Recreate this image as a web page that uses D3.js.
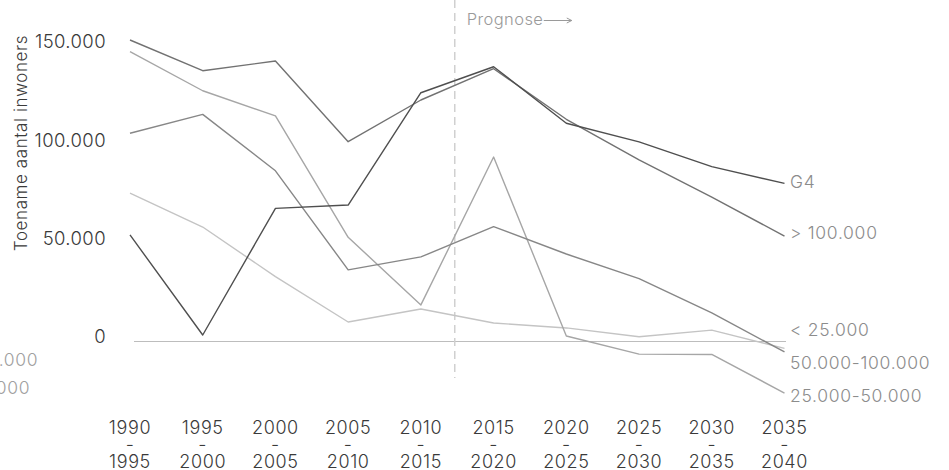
<!DOCTYPE html>
<html>
<head>
<meta charset="utf-8">
<script src="https://cdn.jsdelivr.net/npm/d3@7"></script>
<style>
  html, body { margin: 0; padding: 0; background: #fff; }
  svg { display: block; font-family: Inter, "Noto Sans", sans-serif; font-weight: 300; }
</style>
</head>
<body>
<svg id="chart" width="949" height="470"></svg>
<script>
// ---- data ----
const periodsStart = ["1990","1995","2000","2005","2010","2015","2020","2025","2030","2035"];
const periodsEnd   = ["1995","2000","2005","2010","2015","2020","2025","2030","2035","2040"];
const yTicks = [0, 50000, 100000, 150000];
const seriesNames = ["< 25.000", "25.000-50.000", "50.000-100.000", "> 100.000", "G4"];
const valuesLt25k    = [75500, 58200, 33000, 9900, 16500, 9400, 6900, 2400, 5800, -3500];
const values25to50k  = [147400, 127500, 114700, 53000, 18600, 93800, 2800, -6400, -6600, -26200];
const values50to100k = [105900, 115500, 86800, 36400, 43000, 58400, 44500, 32000, 14500, -5300];
const valuesGt100k   = [153300, 137700, 142600, 101600, 122800, 138700, 113000, 92300, 73400, 53600];
const valuesG4       = [54200, 3300, 67700, 69400, 126500, 139700, 111000, 101500, 88900, 80400];
const axisTitle = "Toename aantal inwoners";
const prognoseLabel = "Prognose";

// ---- layout ----
const svg = d3.select("#chart");
const x = d3.scalePoint().domain(periodsStart).range([130, 784.5]);
const y = d3.scaleLinear().domain([0, 150000]).range([341.5, 46.5]);
const fmt = d3.formatLocale({decimal: ",", thousands: ".", grouping: [3], currency: ["€",""]}).format(",d");

const series = [
  {name: "> 100.000",      values: valuesGt100k,   color: "#727272", labelY: 233.3},
  {name: "25.000-50.000",  values: values25to50k,  color: "#a6a6a6", labelY: 396},
  {name: "50.000-100.000", values: values50to100k, color: "#878787", labelY: 363.3},
  {name: "< 25.000",       values: valuesLt25k,    color: "#c4c4c4", labelY: 330},
  {name: "G4",             values: valuesG4,       color: "#4f4f4f", labelY: 182.3}
];

// zero line
svg.append("line")
  .attr("x1", 134).attr("x2", 786)
  .attr("y1", y(0)).attr("y2", y(0))
  .attr("stroke", "#bdbdbd").attr("stroke-width", 1.2);

// prognose dashed line
const progX = (x("2010") + x("2015")) / 2 - 2.5;
svg.append("line")
  .attr("x1", progX).attr("x2", progX)
  .attr("y1", 0).attr("y2", 378)
  .attr("stroke", "#d0d0d0").attr("stroke-width", 1.5)
  .attr("stroke-dasharray", "8,5");

svg.append("text")
  .attr("x", progX + 12).attr("y", 24.5)
  .attr("font-size", 16.5).attr("letter-spacing", 0.4).attr("fill", "#9a9a9a")
  .text(prognoseLabel);
svg.append("path")
  .attr("d", `M${progX + 89},20.5 H${progX + 117} M${progX + 112},18 L${progX + 117},20.5 L${progX + 112},23`)
  .attr("fill", "none").attr("stroke", "#9a9a9a").attr("stroke-width", 1);

// y axis tick labels
const yAxis = d3.axisLeft(y).tickValues(yTicks).tickFormat(fmt).tickSize(0).tickPadding(0);
const gy = svg.append("g").attr("transform", "translate(106,-4.5)").call(yAxis);
gy.select(".domain").remove();
gy.selectAll("text")
  .attr("font-size", 18.5).attr("letter-spacing", 0.4)
  .attr("fill", "#3a3a3a").attr("font-family", "Inter, sans-serif").attr("font-weight", 300);

// y axis title
svg.append("text")
  .attr("transform", "translate(27,143) rotate(-90)")
  .attr("text-anchor", "middle")
  .attr("font-size", 17).attr("letter-spacing", 0.6).attr("fill", "#3a3a3a")
  .text(axisTitle);

// x axis labels
const gx = svg.append("g");
periodsStart.forEach((p, i) => {
  const t = gx.append("text")
    .attr("x", x(p)).attr("text-anchor", "middle")
    .attr("font-size", 18).attr("letter-spacing", 0.6).attr("fill", "#3a3a3a");
  t.append("tspan").attr("x", x(p)).attr("y", 433.5).text(p);
  t.append("tspan").attr("x", x(p)).attr("y", 450.5).text("-");
  t.append("tspan").attr("x", x(p)).attr("y", 468).text(periodsEnd[i]);
});

// lines
const line = d3.line().x((d, i) => x(periodsStart[i])).y(d => y(d));
const drawOrder = ["< 25.000", "25.000-50.000", "50.000-100.000", "> 100.000", "G4"];
drawOrder.forEach(n => {
  const s = series.find(d => d.name === n);
  svg.append("path")
    .datum(s.values)
    .attr("d", line)
    .attr("fill", "none")
    .attr("stroke", s.color)
    .attr("stroke-width", 1.4)
    .attr("stroke-linejoin", "round");
});

// right labels
series.forEach(s => {
  svg.append("text")
    .attr("x", 790).attr("y", s.labelY)
    .attr("dy", "0.35em")
    .attr("font-size", 17.5).attr("letter-spacing", 0.7).attr("fill", "#8c8c8c")
    .text(s.name);
});

// left (cut-off) labels
[["50.000-100.000", 360], ["25.000-50.000", 388]].forEach(([n, yy]) => {
  svg.append("text")
    .attr("x", -102).attr("y", yy)
    .attr("dy", "0.35em")
    .attr("font-size", 17.5).attr("letter-spacing", 0.7).attr("fill", "#a0a0a0")
    .text(n);
});
</script>
</body>
</html>
